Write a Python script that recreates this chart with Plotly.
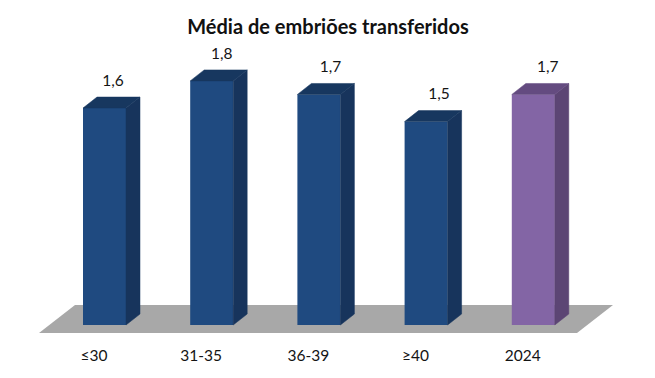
import plotly.graph_objects as go

title = "Média de embriões transferidos"
categories = ["≤30", "31-35", "36-39", "≥40", "2024"]
values = [1.6, 1.8, 1.7, 1.5, 1.7]
labels = ["1,6", "1,8", "1,7", "1,5", "1,7"]

FRONT = ["#1f4a80"] * 4 + ["#8365a5"]
SIDE = ["#17345c"] * 4 + ["#5c4574"]
TOP = ["#17375f"] * 4 + ["#644b80"]
FLOOR = "#a8a8a8"
TEXT = "#141414"
FONT = "Lato, Carlito, Calibri, sans-serif"

W, H = 655, 378
# axis geometry: one category = 107.2 px, one value unit = 135.6 px
PX_X, PX_Y = 107.2, 135.6
X0_PX, Y0_PX = 94.0, 325.0
PLOT_BOTTOM = 333
xr = [-X0_PX / PX_X, (W - X0_PX) / PX_X]
yr = [(Y0_PX - PLOT_BOTTOM) / PX_Y, Y0_PX / PX_Y]

bar_left = -11 / PX_X
bar_w = 43 / PX_X
dx, dy = 14 / PX_X, 11 / PX_Y
xs = list(range(len(values)))

fig = go.Figure()
fig.add_trace(go.Bar(
    x=xs, y=values, base=0, width=bar_w, offset=bar_left,
    marker=dict(color=FRONT, line=dict(width=0)), showlegend=False, hoverinfo="skip",
))
for i, v in enumerate(values):
    l = i + bar_left
    r = l + bar_w
    fig.add_trace(go.Scatter(
        x=[r, r + dx, r + dx, r, r], y=[0, dy, v + dy, v, 0],
        mode="lines", fill="toself", fillcolor=SIDE[i], line=dict(width=0.5, color=SIDE[i]),
        showlegend=False, hoverinfo="skip",
    ))
    fig.add_trace(go.Scatter(
        x=[l, r, r + dx, l + dx, l], y=[v, v, v + dy, v + dy, v],
        mode="lines", fill="toself", fillcolor=TOP[i], line=dict(width=0.5, color=TOP[i]),
        showlegend=False, hoverinfo="skip",
    ))

# data labels sit on a slightly wider spacing than the bars in the reference
LABEL_STEP = 108.7 / PX_X
LABEL_SHIFT = 19 / PX_X
fig.add_trace(go.Scatter(
    x=[i * LABEL_STEP + LABEL_SHIFT for i in xs], y=[v + 26 / PX_Y for v in values],
    text=labels, mode="text", textposition="middle center",
    textfont=dict(family=FONT, size=15.5, color=TEXT),
    showlegend=False, hoverinfo="skip",
))

fl_l, fl_r = (39 - X0_PX) / PX_X, (577 - X0_PX) / PX_X
fl_dx, fl_top = 36 / PX_X, (Y0_PX - 305) / PX_Y
fl_bot = yr[0]
fig.add_shape(
    type="path", layer="below", xref="x", yref="y", line=dict(width=0), fillcolor=FLOOR,
    path=f"M {fl_l} {fl_bot} L {fl_r} {fl_bot} L {fl_r + fl_dx} {fl_top} L {fl_l + fl_dx} {fl_top} Z",
)

fig.update_layout(
    width=W, height=H, autosize=False,
    margin=dict(l=0, r=0, t=0, b=H - PLOT_BOTTOM, pad=0),
    paper_bgcolor="white", plot_bgcolor="white",
    title=dict(text=f"<b>{title}</b>", x=328 / W, xanchor="center", y=1 - 27 / H, yanchor="middle",
               font=dict(family=FONT, size=20, color="#111111")),
    xaxis=dict(range=xr, tickmode="array", tickvals=xs, ticktext=categories,
               showgrid=False, zeroline=False, showline=False,
               ticks="outside", ticklen=8, tickcolor="rgba(0,0,0,0)",
               tickfont=dict(family=FONT, size=15.5, color=TEXT), fixedrange=True),
    yaxis=dict(range=yr, visible=False, fixedrange=True),
    barmode="overlay",
)

fig.write_html("out.html", config={"displayModeBar": False},
               post_script="document.body.style.margin='0';document.body.style.overflow='hidden';")
